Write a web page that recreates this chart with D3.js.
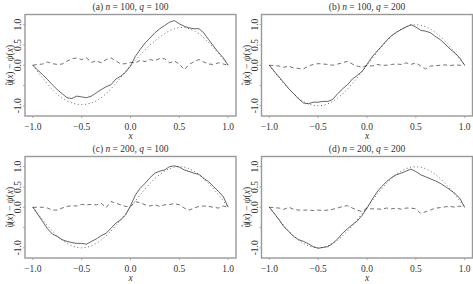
<!DOCTYPE html>
<html>
<head>
<meta charset="utf-8">
<script src="https://cdn.jsdelivr.net/npm/d3@7"></script>
<style>
  body { margin: 0; background: #fff; }
  svg text { font-family: "Liberation Serif", "Times New Roman", serif; }
</style>
</head>
<body>
<svg id="chart" width="473" height="284"></svg>
<script>
const xGrid = [-1, -0.95, -0.9, -0.85, -0.8, -0.75, -0.7, -0.65, -0.6, -0.55, -0.5, -0.45, -0.4, -0.35, -0.3, -0.25, -0.2, -0.15, -0.1, -0.05,
    0, 0.05, 0.1, 0.15, 0.2, 0.25, 0.3, 0.35, 0.4, 0.45, 0.5, 0.55, 0.6, 0.65, 0.7, 0.75, 0.8, 0.85, 0.9, 0.95, 1];

const panelTitles = [["(a) ", "n", " = 100, ", "q", " = 100"], ["(b) ", "n", " = 100, ", "q", " = 200"],
    ["(c) ", "n", " = 200, ", "q", " = 100"], ["(d) ", "n", " = 200, ", "q", " = 200"]];

const xTicks = [-1, -0.5, 0, 0.5, 1];
const yTicks = [-1, -0.5, 0, 0.5, 1];
const yTickLabels = ["-1.0", "", "0.0", "0.5", "1.0"];

// true function (dotted)
const truthA = [0, -0.16, -0.31, -0.46, -0.6, -0.72, -0.81, -0.88, -0.93, -0.96, -0.97, -0.96, -0.93, -0.88, -0.8, -0.7, -0.58, -0.45, -0.3, -0.15,
    0, 0.12, 0.25, 0.38, 0.5, 0.6, 0.7, 0.78, 0.85, 0.9, 0.93, 0.93, 0.9, 0.85, 0.78, 0.68, 0.56, 0.43, 0.29, 0.15, 0];
const truth = [0, -0.156, -0.309, -0.454, -0.588, -0.707, -0.809, -0.891, -0.951, -0.988, -1, -0.988, -0.951, -0.891, -0.809, -0.707, -0.588, -0.454, -0.309, -0.156,
    0, 0.156, 0.309, 0.454, 0.588, 0.707, 0.809, 0.891, 0.951, 0.988, 1, 0.988, 0.951, 0.891, 0.809, 0.707, 0.588, 0.454, 0.309, 0.156, 0];

// estimates (solid)
const estA = [0, -0.12, -0.23, -0.35, -0.48, -0.6, -0.7, -0.8, -0.82, -0.76, -0.78, -0.8, -0.76, -0.68, -0.6, -0.53, -0.48, -0.34, -0.27, -0.17,
    -0.02, 0.22, 0.39, 0.55, 0.67, 0.8, 0.9, 0.98, 1.06, 1.1, 1.02, 0.96, 0.92, 0.9, 0.9, 0.8, 0.63, 0.47, 0.32, 0.18, 0];
const estB = [0, -0.15, -0.29, -0.43, -0.58, -0.7, -0.83, -0.93, -0.95, -0.91, -0.91, -0.89, -0.89, -0.84, -0.7, -0.58, -0.48, -0.34, -0.25, -0.15,
    0.02, 0.2, 0.34, 0.47, 0.61, 0.73, 0.81, 0.88, 0.94, 1.0, 0.94, 0.86, 0.84, 0.8, 0.71, 0.63, 0.52, 0.4, 0.3, 0.18, 0];
const estC = [0, -0.17, -0.35, -0.53, -0.66, -0.72, -0.8, -0.84, -0.87, -0.89, -0.89, -0.91, -0.84, -0.78, -0.7, -0.64, -0.52, -0.39, -0.31, -0.19,
    0.04, 0.3, 0.47, 0.59, 0.73, 0.84, 0.89, 0.92, 1.0, 1.02, 0.99, 0.92, 0.88, 0.84, 0.81, 0.71, 0.63, 0.51, 0.39, 0.26, 0];
const estD = [0, -0.15, -0.31, -0.48, -0.6, -0.72, -0.8, -0.84, -0.9, -0.97, -1.01, -0.99, -0.97, -0.89, -0.78, -0.64, -0.53, -0.43, -0.34, -0.2,
    -0.02, 0.18, 0.37, 0.51, 0.63, 0.73, 0.8, 0.84, 0.89, 0.94, 0.88, 0.8, 0.75, 0.7, 0.65, 0.59, 0.51, 0.43, 0.34, 0.22, 0];

// differences (dashed)
const diffA = [0, 0.02, 0.03, 0.08, 0.04, 0.02, 0.03, 0.1, 0.16, 0.18, 0.14, 0.18, 0.07, 0.11, 0.06, 0.14, 0.18, 0.11, 0.03, 0.04,
    0.07, 0.06, 0.12, 0.09, 0.14, 0.11, 0.17, 0.16, 0.06, 0.1, 0.03, -0.11, 0.02, 0.09, 0.14, 0.08, 0.03, 0.02, 0.06, 0.03, 0];
const diffB = [0, -0.01, -0.02, -0.05, -0.02, -0.07, -0.08, -0.09, -0.02, 0.02, 0.04, 0.03, 0.02, 0, 0.03, 0.06, 0.1, 0.03, -0.02, -0.05,
    0, -0.02, 0.02, 0, 0, 0.02, 0.03, 0.02, 0.06, 0.02, 0.06, -0.02, -0.09, -0.02, -0.01, 0, 0.01, -0.01, 0.01, 0, 0];
const diffC = [0, 0, 0, -0.02, -0.07, -0.07, -0.02, 0.02, 0.04, 0.03, 0.07, 0.06, 0.07, 0.06, 0.1, -0.01, 0.14, 0.1, 0.06, 0.02,
    0.02, 0.14, 0.11, 0.06, 0.03, 0.06, 0.02, 0.06, 0.07, 0.09, 0.06, -0.02, -0.07, -0.02, 0.02, 0.03, 0.02, 0, -0.02, 0.03, 0];
const diffD = [0, -0.01, -0.02, -0.05, 0, -0.05, -0.07, -0.07, -0.07, -0.08, -0.07, -0.08, -0.07, -0.05, -0.02, 0.02, 0.04, -0.02, -0.07, -0.11,
    -0.02, -0.04, -0.04, -0.05, -0.02, -0.04, -0.02, -0.05, -0.02, -0.02, -0.04, -0.15, -0.11, -0.07, -0.02, -0.01, 0.01, 0.02, 0, 0.03, 0];

const panels = [
    {title: panelTitles[0], est: estA, truth: truthA, diff: diffA, ox: 0, oy: 0},
    {title: panelTitles[1], est: estB, truth: truth, diff: diffB, ox: 236.5, oy: 0},
    {title: panelTitles[2], est: estC, truth: truth, diff: diffC, ox: 0, oy: 142},
    {title: panelTitles[3], est: estD, truth: truth, diff: diffD, ox: 236.5, oy: 142}
];

const box = {left: 25, right: 236, top: 14.5, bottom: 116};
const svg = d3.select("#chart");

panels.forEach(p => drawPanel(p));

function drawPanel(p) {
    const g = svg.append("g").attr("transform", `translate(${p.ox},${p.oy})`);

    const x = d3.scaleLinear().domain([-1.08, 1.08]).range([box.left, box.right]);
    const y = d3.scaleLinear().domain([-1.25, 1.25]).range([box.bottom, box.top]);

    const line = vals => d3.line()
        .x((d, i) => x(xGrid[i]))
        .y(d => y(d))(vals);

    g.append("path").attr("d", line(p.truth))
        .attr("fill", "none").attr("stroke", "#444").attr("stroke-width", 0.8)
        .attr("stroke-dasharray", "1,2.6");
    g.append("path").attr("d", line(p.diff))
        .attr("fill", "none").attr("stroke", "#333").attr("stroke-width", 0.7)
        .attr("stroke-dasharray", "4,3");
    g.append("path").attr("d", line(p.est))
        .attr("fill", "none").attr("stroke", "#222").attr("stroke-width", 0.7);

    g.append("rect")
        .attr("x", box.left).attr("y", box.top)
        .attr("width", box.right - box.left).attr("height", box.bottom - box.top)
        .attr("fill", "none").attr("stroke", "#999").attr("stroke-width", 1.4);

    // x axis ticks and labels
    g.selectAll(".xtick").data(xTicks).enter().append("line")
        .attr("x1", d => x(d)).attr("x2", d => x(d))
        .attr("y1", box.bottom).attr("y2", box.bottom + 2)
        .attr("stroke", "#999").attr("stroke-width", 0.8);
    g.selectAll(".xlab").data(xTicks).enter().append("text")
        .attr("x", d => x(d)).attr("y", box.bottom + 14)
        .attr("text-anchor", "middle").attr("font-size", "9.5px").attr("fill", "#333")
        .text(d => d3.format(".1f")(d));
    g.append("text").attr("x", (box.left + box.right) / 2).attr("y", box.bottom + 23)
        .attr("text-anchor", "middle").attr("font-size", "9.5px").attr("font-style", "italic")
        .attr("fill", "#333").text("x");

    // y axis ticks and labels
    g.selectAll(".ytick").data(yTicks).enter().append("line")
        .attr("x1", box.left - 2).attr("x2", box.left)
        .attr("y1", d => y(d)).attr("y2", d => y(d))
        .attr("stroke", "#999").attr("stroke-width", 0.8);
    g.selectAll(".ylab").data(yTicks).enter().append("text")
        .attr("transform", d => `translate(${box.left - 4},${y(d)}) rotate(-90)`)
        .attr("text-anchor", "middle").attr("font-size", "9.5px").attr("fill", "#333")
        .text((d, i) => yTickLabels[i]);

    const ylab = g.append("text")
        .attr("transform", `translate(${box.left - 12},${y(0)}) rotate(-90)`)
        .attr("text-anchor", "middle").attr("font-size", "9.5px").attr("fill", "#333");
    ylab.append("tspan").attr("font-style", "italic").text("ψ");
    ylab.append("tspan").attr("dx", -5.5).attr("dy", -1.5).attr("font-size", "8px").text("ˆ");
    ylab.append("tspan").attr("dx", 0.5).attr("dy", 1.5).text("(");
    ylab.append("tspan").attr("font-style", "italic").text("x");
    ylab.append("tspan").text(") − ");
    ylab.append("tspan").attr("font-style", "italic").text("ψ");
    ylab.append("tspan").text("(");
    ylab.append("tspan").attr("font-style", "italic").text("x");
    ylab.append("tspan").text(")");

    const title = g.append("text")
        .attr("x", (box.left + box.right) / 2).attr("y", 10)
        .attr("text-anchor", "middle").attr("font-size", "9.5px").attr("fill", "#333");
    p.title.forEach((s, i) => {
        title.append("tspan").attr("font-style", i % 2 === 1 ? "italic" : "normal").text(s);
    });
}
</script>
</body>
</html>
